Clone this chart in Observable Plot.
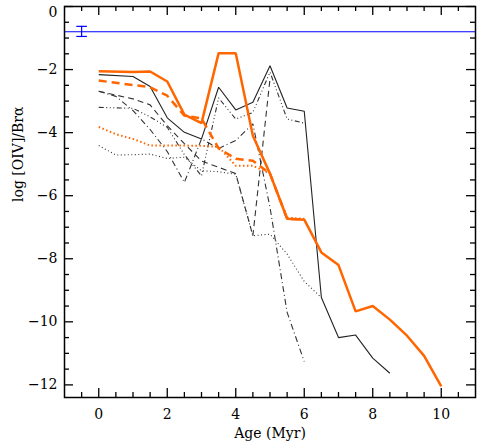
<!DOCTYPE html>
<html><head><meta charset="utf-8">
<script src="https://cdn.jsdelivr.net/npm/d3@7"></script>
<script src="https://cdn.jsdelivr.net/npm/@observablehq/plot@0.6"></script>
<style>body{margin:0;background:#fff} svg{font-family:"DejaVu Serif",serif}</style>
</head><body><div id="chart"></div>
<script>
// ---- data ----
const xTicksMajor = [0, 2, 4, 6, 8, 10];
const xTicksMinor = [-0.5, 0.5, 1, 1.5, 2.5, 3, 3.5, 4.5, 5, 5.5, 6.5, 7, 7.5, 8.5, 9, 9.5, 10.5];
const yTicksMajor = [0, -2, -4, -6, -8, -10, -12];
const yTicksMinor = [-0.5, -1, -1.5, -2.5, -3, -3.5, -4.5, -5, -5.5, -6.5, -7, -7.5, -8.5, -9, -9.5, -10.5, -11, -11.5];

const obsAge = -0.5;
const obsValue = -0.8;
const obsLow = -0.95;
const obsHigh = -0.63;

const orangeSolidAge = [0, 1, 1.5, 2, 2.5, 3, 3.5, 4, 4.5, 5, 5.5, 6, 6.5, 7, 7.5, 8, 8.5, 9, 9.5, 10];
const orangeSolid    = [-2.05, -2.08, -2.06, -2.38, -3.43, -3.7, -1.48, -1.48, -4.1, -5.3, -6.73, -6.76, -7.8, -8.2, -9.67, -9.5, -9.93, -10.44, -11.08, -12.05];

const orangeDashedAge = [0, 1.5, 2, 2.5, 3, 3.5, 4, 4.5, 5, 5.5, 6];
const orangeDashed    = [-2.35, -2.56, -2.83, -3.46, -3.55, -4.5, -4.83, -4.89, -5.3, -6.73, -6.76];

const orangeDottedAge = [0, 0.5, 1, 1.5, 2, 2.5, 3, 3.5, 4, 4.5, 5, 5.5, 6];
const orangeDotted    = [-3.82, -4.05, -4.2, -4.41, -4.41, -4.41, -4.42, -4.45, -5.05, -5.05, -5.3, -6.7, -6.73];

const blackSolidAge = [0, 1, 1.5, 2, 2.5, 3, 3.5, 4, 4.5, 5, 5.5, 6, 6.5, 7, 7.5, 8, 8.5];
const blackSolid    = [-2.16, -2.22, -2.54, -3.53, -3.99, -4.2, -2.56, -3.28, -3.04, -1.88, -3.22, -3.32, -9.23, -10.5, -10.42, -11.15, -11.63];

const blackDashedAge = [0, 1, 1.5, 2, 2.5, 3, 3.5, 4, 4.5, 5];
const blackDashed    = [-2.69, -2.93, -3.12, -3.78, -4.35, -4.9, -5.1, -5.3, -7.27, -2.3];

const blackDashDotAge = [0, 0.5, 1, 1.5, 2, 2.5, 3, 3.5, 4, 4.5, 5, 5.5, 6];
const blackDashDot    = [-2.69, -2.85, -3.3, -3.9, -4.6, -5.58, -4.2, -4.5, -4.25, -3.72, -6.37, -9.7, -11.26];

const blackDash3DotAge = [0, 1, 1.5, 2, 2.5, 3, 3.5, 4, 4.5, 5, 5.5, 6];
const blackDash3Dot    = [-3.2, -3.23, -3.5, -3.83, -4.7, -5.37, -2.9, -3.57, -3.36, -2.08, -3.57, -3.7];

const blackDottedAge = [0, 0.5, 1, 1.5, 2, 2.5, 3, 3.5, 4, 4.5, 5, 5.5, 6, 6.5];
const blackDotted    = [-4.41, -4.71, -4.7, -4.68, -4.82, -4.78, -5.21, -5.24, -5.32, -7.27, -7.22, -7.85, -8.72, -9.23];

// ---- styles (kept separate from data) ----
const W = 480, H = 446, ML = 64, MR = 5, MT = 6, MB = 49;
const innerW = W - ML - MR, innerH = H - MT - MB;
const majorLen = 9, minorLen = 5;
const tickStyle = {stroke: "black", strokeWidth: 1.3};

const seriesDefs = [
  {age: blackDottedAge, val: blackDotted, stroke: "#333", width: 1.1, dash: "1,2.5"},
  {age: blackDash3DotAge, val: blackDash3Dot, stroke: "#333", width: 1.1, dash: "5,2.5,1,2.5,1,2.5,1,2.5"},
  {age: blackDashDotAge, val: blackDashDot, stroke: "#333", width: 1.1, dash: "6,3,1,3"},
  {age: blackDashedAge, val: blackDashed, stroke: "#333", width: 1.1, dash: "6,4"},
  {age: blackSolidAge, val: blackSolid, stroke: "#222", width: 1.1, dash: null},
  {age: orangeDottedAge, val: orangeDotted, stroke: "#ff6600", width: 2, dash: "1.5,2.5"},
  {age: orangeDashedAge, val: orangeDashed, stroke: "#ff6600", width: 2.5, dash: "8,5"},
  {age: orangeSolidAge, val: orangeSolid, stroke: "#ff6600", width: 2.5, dash: null}
];

const capSymbol = {draw(ctx, size) { const r = Math.sqrt(size); ctx.moveTo(-r, 0); ctx.lineTo(r, 0); }};

const lineMarks = seriesDefs.map(s =>
  Plot.line(s.age.map((a, i) => ({age: a, val: s.val[i]})), {
    x: "age", y: "val", stroke: s.stroke, strokeWidth: s.width,
    strokeDasharray: s.dash ?? undefined, strokeLinejoin: "miter", strokeLinecap: "butt"
  })
);

const obs = [{age: obsAge, val: obsValue, lo: obsLow, hi: obsHigh}];

const chart = Plot.plot({
  width: W, height: H,
  marginLeft: ML, marginRight: MR, marginTop: MT, marginBottom: MB,
  x: {domain: [-1, 11], axis: null},
  y: {domain: [-12.4, 0], axis: null},
  marks: [
    Plot.ruleX(xTicksMajor, {x: d => d, insetTop: innerH - majorLen, ...tickStyle}),
    Plot.ruleX(xTicksMinor, {x: d => d, insetTop: innerH - minorLen, ...tickStyle}),
    Plot.ruleX(xTicksMajor, {x: d => d, insetBottom: innerH - majorLen, ...tickStyle}),
    Plot.ruleX(xTicksMinor, {x: d => d, insetBottom: innerH - minorLen, ...tickStyle}),
    Plot.ruleY(yTicksMajor, {y: d => d, insetRight: innerW - majorLen, ...tickStyle}),
    Plot.ruleY(yTicksMinor, {y: d => d, insetRight: innerW - minorLen, ...tickStyle}),
    Plot.ruleY(yTicksMajor, {y: d => d, insetLeft: innerW - majorLen, ...tickStyle}),
    Plot.ruleY(yTicksMinor, {y: d => d, insetLeft: innerW - minorLen, ...tickStyle}),
    ...lineMarks,
    Plot.ruleY([obsValue], {stroke: "#0000ff", strokeWidth: 1.2}),
    Plot.ruleX(obs, {x: "age", y1: "lo", y2: "hi", stroke: "#0000ff", strokeWidth: 1.2}),
    Plot.dot(obs, {x: "age", y: "lo", symbol: capSymbol, r: 3, stroke: "#0000ff", strokeWidth: 1.2}),
    Plot.dot(obs, {x: "age", y: "hi", symbol: capSymbol, r: 3, stroke: "#0000ff", strokeWidth: 1.2}),
    Plot.axisX({anchor: "bottom", ticks: xTicksMajor, tickSize: 0, tickPadding: 12, fontSize: 14, fontFamily: "DejaVu Serif", label: null}),
    Plot.axisY({anchor: "left", ticks: yTicksMajor.filter(d => d !== 0), tickSize: 0, tickPadding: 7, fontSize: 14, fontFamily: "DejaVu Serif", label: null}),
    Plot.axisY({anchor: "left", ticks: [0], tickSize: 0, tickPadding: 7, fontSize: 14, fontFamily: "DejaVu Serif", label: null, dy: 6}),
    Plot.frame({stroke: "black", strokeWidth: 1.5}),
    Plot.text(["Age (Myr)"], {frameAnchor: "bottom", dy: 36, text: d => d, fontSize: 14, fontFamily: "DejaVu Serif", lineAnchor: "middle"}),
    Plot.text(["log [OIV]/Brα"], {frameAnchor: "left", dx: -46, rotate: -90, text: d => d, fontSize: 14, fontFamily: "DejaVu Serif", lineAnchor: "middle"})
  ]
});
document.getElementById("chart").appendChild(chart);
</script>
</body></html>
